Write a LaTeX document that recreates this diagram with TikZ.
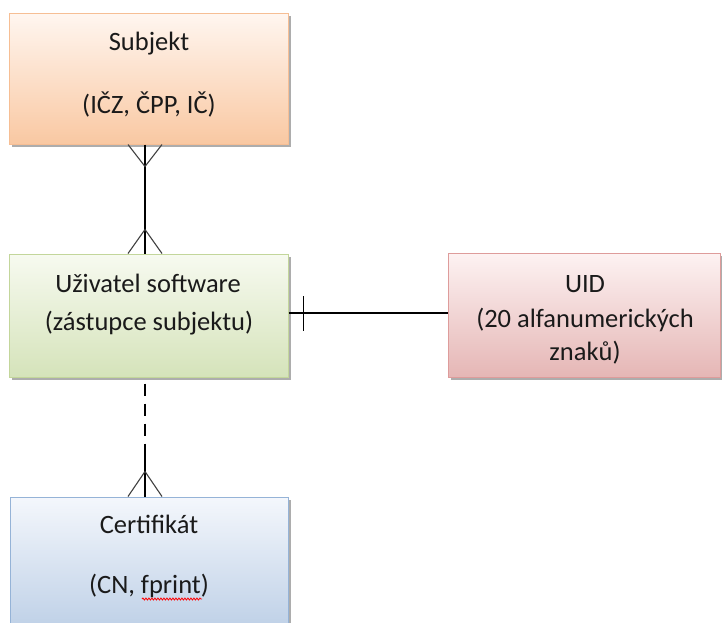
\documentclass[tikz,border=0pt]{standalone}
\usepackage{fontspec}
\setmainfont{Carlito}
\usetikzlibrary{calc,shadows,decorations.pathmorphing}
\definecolor{orB}{HTML}{F6BE94}\definecolor{orT}{HTML}{FFF6F0}\definecolor{orD}{HTML}{F9C8A2}
\definecolor{grB}{HTML}{C3D69B}\definecolor{grT}{HTML}{F7FAF0}\definecolor{grD}{HTML}{D5E3BA}
\definecolor{rdB}{HTML}{DE9C9B}\definecolor{rdT}{HTML}{FDF2F2}\definecolor{rdD}{HTML}{E5B6B5}
\definecolor{blB}{HTML}{95B3D7}\definecolor{blT}{HTML}{F4F7FC}\definecolor{blD}{HTML}{B7CBE4}
\definecolor{txtc}{HTML}{1A1A1A}
\tikzset{
  box/.style={rectangle, draw=#1B, line width=1pt, top color=#1T, bottom color=#1D,
    drop shadow={shadow xshift=2.5pt, shadow yshift=-2.5pt, fill=black!40, opacity=0.8}},
  txt/.style={anchor=base, inner sep=0pt, text=txtc, font=\fontsize{26.5}{32}\selectfont},
  rel/.style={line width=1.3pt, black},
  foot/.style={line width=1.1pt, black!75},
  dashrel/.style={line width=1.3pt, black, dash pattern=on 12pt off 8pt, dash phase=14pt}
}
\begin{document}
\begin{tikzpicture}[x=1pt,y=-1pt]
\useasboundingbox (0,0) rectangle (722,622);
\clip (0,0) rectangle (722,622);
% boxes
\node[box=or, minimum width=279pt, minimum height=131pt] (subj) at (148.5,78.5) {};
\node[box=gr, minimum width=279pt, minimum height=123pt] (user) at (148.5,315.5) {};
\node[box=rd, minimum width=272pt, minimum height=124pt] (uid) at (584,315.5) {};
\node[box=bl, minimum width=278pt, minimum height=150pt] (cert) at (149,572) {};
% texts
\node[txt] (t1) at (149,50) {Subjekt};
\node[txt] (t2) at (149,113) {(IČZ, ČPP, IČ)};
\node[txt] (t3) at (148,292) {Uživatel software};
\node[txt] (t4) at (149,330) {(zástupce subjektu)};
\node[txt] (t5) at (585,292) {UID};
\node[txt] (t6) at (585,327) {(20 alfanumerických};
\node[txt] (t7) at (585,360) {znaků)};
\node[txt] (t8) at (149,533) {Certifikát};
\node[txt] (t9) at (149,593) {(CN, fprint)};
\draw[red, line width=0.8pt, decorate, decoration={snake, amplitude=1pt, segment length=3pt}]
  (142,599) -- (202,599);
% Subjekt -- Uzivatel (many to many)
\coordinate (a1) at ($(subj.south)+(-3.5,0)$);
\coordinate (a2) at ($(user.north)+(-3.5,0)$);
\draw[rel] (a1) -- (a2);
\draw[foot] ($(a1)+(-17,0)$) -- ($(a1)+(0,22)$) -- ($(a1)+(17,0)$);
\draw[foot] ($(a2)+(-17,0)$) -- ($(a2)+(0,-24)$) -- ($(a2)+(17,0)$);
% Uzivatel -- UID (one)
\coordinate (b1) at ($(user.east)+(0,-2.5)$);
\coordinate (b2) at ($(uid.west)+(0,-2.5)$);
\draw[rel] (b1) -- (b2);
\draw[rel] ($(user.east)+(15,-19.5)$) -- ($(user.east)+(15,15.5)$);
% Uzivatel -- Certifikat (dashed, many)
\coordinate (c1) at ($(user.south)+(-3.5,0)$);
\coordinate (c3) at ($(cert.north)+(-4,0)$);
\coordinate (c2) at ($(c1)!0.583!(c3)$);
\draw[dashrel] (c1) -- (c2);
\draw[rel] (c2) -- (c3);
\draw[foot] ($(c3)+(-17,0)$) -- ($(c3)+(0,-25)$) -- ($(c3)+(17,0)$);
\end{tikzpicture}
\end{document}
